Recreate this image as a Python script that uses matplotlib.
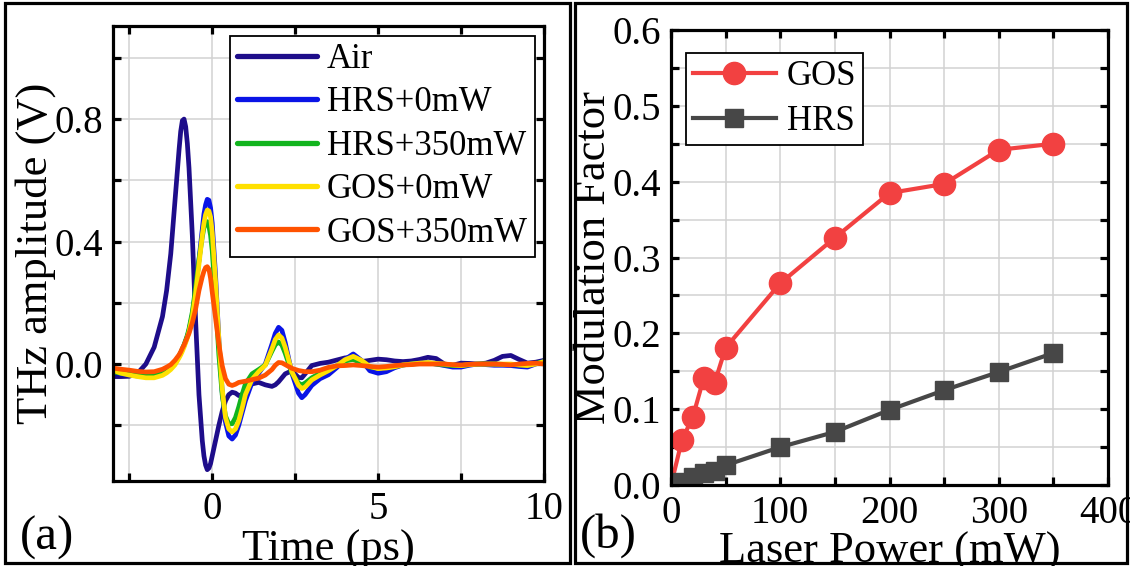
import numpy as np
import matplotlib
matplotlib.use("Agg")
import matplotlib.pyplot as plt
from matplotlib.patches import Rectangle

plt.rcParams['font.family'] = ['Liberation Serif', 'DejaVu Serif']

# ---------------- panel (a): THz time traces ----------------
t_ps = [-3.0, -2.75, -2.5, -2.25, -2.0, -1.75, -1.5, -1.375, -1.25, -1.125,
        -1.0, -0.95, -0.9, -0.85, -0.8, -0.75, -0.7, -0.6, -0.5, -0.4,
        -0.3, -0.25, -0.2, -0.15, -0.1, -0.05, 0.0, 0.1, 0.2, 0.3,
        0.4, 0.5, 0.6, 0.7, 0.8, 0.9, 1.0, 1.2, 1.4, 1.6,
        1.8, 1.9, 2.0, 2.1, 2.2, 2.4, 2.6, 2.7, 2.8, 3.0,
        3.25, 3.5, 3.75, 4.0, 4.25, 4.5, 4.75, 5.0, 5.25, 5.5,
        5.75, 6.0, 6.25, 6.5, 6.75, 7.0, 7.25, 7.5, 7.75, 8.0,
        8.25, 8.5, 8.75, 9.0, 9.25, 9.5, 9.75, 10.0]

air = [-0.041, -0.041, -0.040, -0.030, 0.000, 0.055, 0.155, 0.24, 0.36, 0.53,
       0.70, 0.76, 0.795, 0.80, 0.775, 0.72, 0.64, 0.42, 0.14, -0.10,
       -0.25, -0.30, -0.33, -0.345, -0.34, -0.325, -0.30, -0.25, -0.20, -0.155,
       -0.12, -0.10, -0.092, -0.095, -0.103, -0.10, -0.085, -0.065, -0.060, -0.068,
       -0.073, -0.068, -0.058, -0.045, -0.032, -0.022, -0.044, -0.045, -0.032, -0.005,
       0.002, 0.006, 0.013, 0.020, 0.022, 0.008, 0.012, 0.016, 0.014, 0.010,
       0.008, 0.010, 0.015, 0.022, 0.018, 0.000, -0.004, 0.003, 0.002, 0.000,
       0.003, 0.012, 0.025, 0.028, 0.015, 0.003, 0.006, 0.012]

hrs_0mw = [-0.025, -0.032, -0.036, -0.039, -0.040, -0.040, -0.032, -0.024, -0.013, 0.002,
           0.025, 0.035, 0.048, 0.060, 0.075, 0.090, 0.110, 0.16, 0.24, 0.34,
           0.44, 0.49, 0.52, 0.538, 0.535, 0.51, 0.46, 0.29, 0.08, -0.09,
           -0.19, -0.235, -0.245, -0.232, -0.20, -0.16, -0.12, -0.06, -0.03, 0.0,
           0.065, 0.10, 0.12, 0.11, 0.07, -0.03, -0.095, -0.11, -0.10, -0.07,
           -0.048, -0.035, -0.012, 0.015, 0.033, 0.012, -0.022, -0.030, -0.025, -0.012,
           -0.003, 0.0, 0.003, 0.004, 0.0, -0.005, -0.010, -0.010, -0.004, 0.0,
           -0.002, -0.004, -0.004, -0.005, -0.008, -0.010, 0.0, 0.010]

hrs_350mw = [-0.025, -0.030, -0.033, -0.036, -0.038, -0.037, -0.029, -0.021, -0.011, 0.004,
             0.027, 0.037, 0.050, 0.063, 0.078, 0.094, 0.115, 0.17, 0.25, 0.34,
             0.415, 0.445, 0.46, 0.465, 0.45, 0.42, 0.37, 0.21, 0.03, -0.10,
             -0.17, -0.195, -0.195, -0.175, -0.14, -0.10, -0.065, -0.032, -0.018, -0.003,
             0.042, 0.063, 0.072, 0.062, 0.035, -0.03, -0.062, -0.068, -0.062, -0.045,
             -0.030, -0.020, -0.006, 0.010, 0.015, 0.003, -0.010, -0.013, -0.011, -0.008,
             -0.003, 0.0, 0.002, 0.003, 0.0, -0.003, -0.005, -0.005, -0.002, 0.0,
             0.0, 0.0, -0.001, -0.002, -0.003, -0.003, 0.002, 0.008]

gos_0mw = [-0.020, -0.030, -0.036, -0.041, -0.045, -0.045, -0.037, -0.029, -0.018, -0.003,
           0.020, 0.030, 0.042, 0.055, 0.070, 0.085, 0.105, 0.155, 0.23, 0.325,
           0.42, 0.46, 0.488, 0.503, 0.50, 0.48, 0.43, 0.27, 0.08, -0.08,
           -0.175, -0.212, -0.222, -0.212, -0.185, -0.145, -0.10, -0.05, -0.025, -0.004,
           0.05, 0.08, 0.095, 0.085, 0.055, -0.025, -0.07, -0.08, -0.075, -0.052,
           -0.036, -0.022, -0.006, 0.014, 0.025, 0.012, -0.008, -0.015, -0.013, -0.009,
           -0.003, 0.0, 0.003, 0.005, 0.002, 0.0, -0.003, -0.005, -0.002, 0.0,
           0.0, 0.0, 0.0, 0.0, -0.003, -0.005, 0.0, 0.008]

gos_350mw = [-0.013, -0.017, -0.020, -0.024, -0.026, -0.025, -0.017, -0.010, -0.002, 0.012,
             0.030, 0.040, 0.052, 0.062, 0.075, 0.088, 0.100, 0.135, 0.18, 0.24,
             0.285, 0.303, 0.315, 0.318, 0.31, 0.28, 0.235, 0.15, 0.065, -0.005,
             -0.048, -0.066, -0.070, -0.066, -0.060, -0.058, -0.056, -0.051, -0.046, -0.036,
             -0.018, -0.004, 0.005, 0.004, -0.002, -0.014, -0.021, -0.023, -0.025, -0.025,
             -0.020, -0.011, -0.006, -0.005, -0.003, -0.005, -0.008, -0.010, -0.008, -0.005,
             -0.003, -0.002, 0.0, 0.0, 0.0, 0.0, -0.002, -0.003, -0.001, 0.0,
             0.0, 0.0, -0.001, -0.003, 0.0, 0.002, 0.003, 0.0]

a_names = ["Air", "HRS+0mW", "HRS+350mW", "GOS+0mW", "GOS+350mW"]
a_colors = ["#1E0D8A", "#0A14E6", "#12B41E", "#FFE000", "#FF5200"]

a_xticks = [-2.5, 0, 2.5, 5, 7.5, 10]
a_xlabels = ["", "0", "", "5", "", "10"]
a_yticks = [-0.2, 0.0, 0.2, 0.4, 0.6, 0.8, 1.0]
a_ylabels = ["", "0.0", "", "0.4", "", "0.8", ""]

# ---------------- panel (b): modulation factor ----------------
gos_power = [0, 10, 20, 30, 40, 50, 100, 150, 200, 250, 300, 350]
gos_mf = [0.0, 0.059, 0.090, 0.141, 0.135, 0.181, 0.266, 0.326, 0.385, 0.397, 0.442, 0.450]
hrs_power = [0, 10, 20, 30, 40, 50, 100, 150, 200, 250, 300, 350]
hrs_mf = [0.0, 0.004, 0.011, 0.016, 0.018, 0.026, 0.050, 0.070, 0.099, 0.125, 0.149, 0.174]

b_xticks = [0, 50, 100, 150, 200, 250, 300, 350, 400]
b_xlabels = ["0", "", "100", "", "200", "", "300", "", "400"]
b_yticks = [0.0, 0.05, 0.1, 0.15, 0.2, 0.25, 0.3, 0.35, 0.4, 0.45, 0.5, 0.55, 0.6]
b_ylabels = ["0.0", "", "0.1", "", "0.2", "", "0.3", "", "0.4", "", "0.5", "", "0.6"]

W, H = 1130, 566
fig = plt.figure(figsize=(W / 100, H / 100), dpi=100)


def px_axes(x0, y0, x1, y1):
    return fig.add_axes([x0 / W, 1 - y1 / H, (x1 - x0) / W, (y1 - y0) / H])


def style_axes(ax):
    for s in ax.spines.values():
        s.set_linewidth(2.3)
    ax.tick_params(direction='in', length=6, width=2.3, top=True, right=True,
                   labelsize=28, pad=7)
    ax.grid(True, color='#d2d2d2', linewidth=1.1)
    ax.set_axisbelow(True)


# (a)
ax1 = px_axes(112.7, 26, 544, 481)
for y, name, c in zip([air, hrs_0mw, hrs_350mw, gos_0mw, gos_350mw], a_names, a_colors):
    ax1.plot(t_ps, y, color=c, lw=3.4, label=name,
             solid_joinstyle='round', solid_capstyle='round')
ax1.set_xlim(-3, 10)
ax1.set_ylim(-0.382, 1.104)
ax1.set_xticks(a_xticks, a_xlabels)
ax1.set_yticks(a_yticks, a_ylabels)
style_axes(ax1)
ax1.set_xlabel("Time (ps)", fontsize=32, labelpad=1)
ax1.set_ylabel("THz amplitude (V)", fontsize=32, labelpad=-1)
leg1 = ax1.legend(loc='upper right', bbox_to_anchor=(0.979, 0.978), fontsize=25,
                  frameon=True, fancybox=False, framealpha=1, edgecolor='black',
                  handlelength=2.3, handletextpad=0.3, labelspacing=0.3,
                  borderpad=0.2, borderaxespad=0)
leg1.get_frame().set_linewidth(1.3)
for ln in leg1.get_lines():
    ln.set_linewidth(3.8)

# (b)
ax2 = px_axes(671, 30, 1108, 485)
ax2.plot(gos_power, gos_mf, color='#F24141', lw=3, marker='o', markersize=16,
         label='GOS')
ax2.plot(hrs_power, hrs_mf, color='#474747', lw=3, marker='s', markersize=13,
         label='HRS')
ax2.set_xlim(0, 400)
ax2.set_ylim(0, 0.6)
ax2.set_xticks(b_xticks, b_xlabels)
ax2.set_yticks(b_yticks, b_ylabels)
style_axes(ax2)
ax2.set_xlabel("Laser Power (mW)", fontsize=32, labelpad=0)
ax2.set_ylabel("Modulation Factor", fontsize=32, labelpad=-1)
leg2 = ax2.legend(loc='upper left', bbox_to_anchor=(0.034, 0.949), fontsize=25,
                  frameon=True, fancybox=False, framealpha=1, edgecolor='black',
                  handlelength=2.4, handletextpad=0.3, labelspacing=0.34,
                  borderpad=0.2, borderaxespad=0, numpoints=1)
leg2.get_frame().set_linewidth(1.3)

# panel labels
fig.text(20 / W, 1 - 550 / H, "(a)", fontsize=35, ha='left', va='baseline')
fig.text(580 / W, 1 - 548 / H, "(b)", fontsize=35, ha='left', va='baseline')

# outer frames around each panel
for x0, x1 in [(5, 570), (575, 1127)]:
    fig.add_artist(Rectangle((x0 / W, 1 - 563 / H), (x1 - x0) / W, 560 / H,
                             transform=fig.transFigure, fill=False,
                             edgecolor='black', linewidth=2.3))

fig.savefig("out.png", dpi=100)
